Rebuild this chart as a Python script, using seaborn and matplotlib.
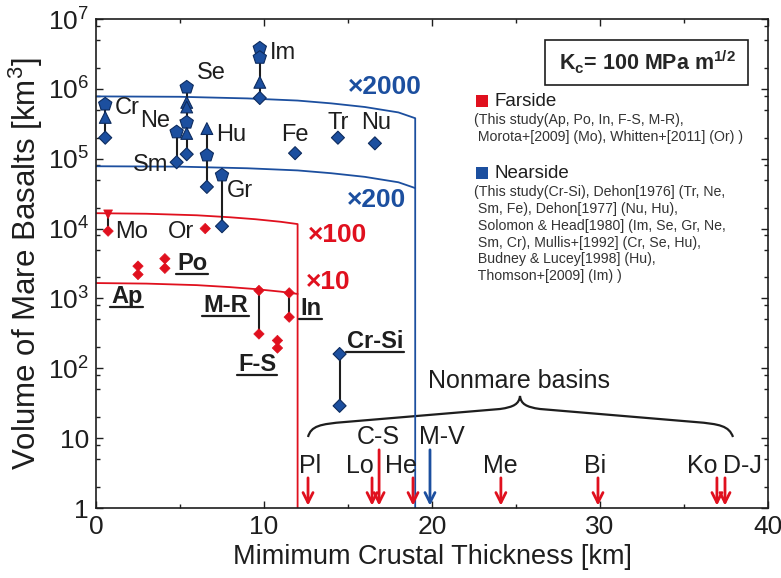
import matplotlib
matplotlib.use("Agg")
import numpy as np
import pandas as pd
import matplotlib.pyplot as plt
import seaborn as sns
from matplotlib.path import Path
from matplotlib.patches import PathPatch, Rectangle
from matplotlib.lines import Line2D
from matplotlib.ticker import FixedLocator, FixedFormatter, LogLocator, MultipleLocator, NullFormatter

# ── Style ─────────────────────────────────────────────────────
sns.set_theme(style="ticks")
plt.rcParams['font.family'] = ['Liberation Sans', 'DejaVu Sans']
plt.rcParams.update({'mathtext.fontset': 'custom',
                     'mathtext.rm': 'Liberation Sans',
                     'mathtext.bf': 'Liberation Sans:bold',
                     'mathtext.it': 'Liberation Sans:italic'})
RED = '#E0101E'
BLUE = '#1C4F9F'
EDGE = '#0D2B5E'
INK = '#1E1E1E'

# ── Data ──────────────────────────────────────────────────────
# limit curves: volume vs minimum crustal thickness
far_x = [0, 3, 6, 8, 9.5, 11, 12, 12]
far100_v = [1.66e4, 1.63e4, 1.55e4, 1.45e4, 1.36e4, 1.25e4, 1.16e4, 1]
far10_x = [0, 3, 6, 8, 9.5, 11, 12]
far10_v = [1.66e3, 1.63e3, 1.55e3, 1.45e3, 1.36e3, 1.25e3, 1.16e3]
near_x = [0, 5, 9, 12, 14, 16, 18, 19, 19]
near2000_v = [7.8e5, 7.7e5, 7.3e5, 6.8e5, 6.2e5, 5.5e5, 4.6e5, 3.8e5, 1]
near200_x = [0, 5, 9, 12, 14, 16, 18, 19]
near200_v = [7.8e4, 7.7e4, 7.3e4, 6.8e4, 6.2e4, 5.5e4, 4.6e4, 3.8e4]

# nearside basins
pent_site = ['Cr', 'Se', 'Se', 'Sm', 'Hu', 'Gr', 'Im', 'Im']
pent_x = [0.55, 5.4, 5.4, 4.8, 6.6, 7.5, 9.75, 9.75]
pent_v = [6.0e5, 1.05e6, 3.3e5, 2.4e5, 1.12e5, 5.8e4, 3.8e6, 2.8e6]
tri_site = ['Cr', 'Se', 'Se', 'Se', 'Hu', 'Im']
tri_x = [0.55, 5.4, 5.4, 5.4, 6.6, 9.75]
tri_v = [3.9e5, 6.4e5, 5.5e5, 2.3e5, 2.7e5, 1.24e6]
dia_site = ['Cr', 'Se', 'Sm', 'Hu', 'Gr', 'Im', 'Fe', 'Tr', 'Nu', 'Cr-Si', 'Cr-Si']
dia_x = [0.55, 5.4, 4.8, 6.6, 7.5, 9.75, 11.85, 14.4, 16.6, 14.5, 14.5]
dia_v = [2.0e5, 1.16e5, 8.9e4, 3.95e4, 1.08e4, 7.4e5, 1.2e5, 2.0e5, 1.66e5, 1.6e2, 29]

# farside basins
rdia_site = ['Mo', 'Or', 'Ap', 'Ap', 'Po', 'Po', 'M-R', 'M-R', 'F-S', 'F-S', 'In', 'In']
rdia_x = [0.72, 6.5, 2.5, 2.5, 4.1, 4.1, 9.7, 9.7, 10.8, 10.8, 11.5, 11.5]
rdia_v = [9.2e3, 1.0e4, 2.9e3, 2.2e3, 3.7e3, 2.7e3, 1.3e3, 3.1e2, 2.5e2, 1.95e2, 1.2e3, 5.4e2]
rtri_site = ['Mo']
rtri_x = [0.72]
rtri_v = [1.6e4]
linked = ['Cr', 'Se', 'Sm', 'Hu', 'Gr', 'Im', 'Cr-Si', 'Mo', 'M-R', 'In']

# nonmare basins
basin_names = ['Pl', 'Lo', 'C-S', 'He', 'M-V', 'Me', 'Bi', 'Ko', 'D-J']
basin_x = [12.62, 16.43, 16.85, 18.87, 19.88, 24.1, 29.88, 36.96, 37.44]
basin_side = ['far', 'far', 'far', 'far', 'near', 'far', 'far', 'far', 'far']

# ── Frames ────────────────────────────────────────────────────
near = pd.DataFrame({
    'site': pent_site + tri_site + dia_site,
    'x': pent_x + tri_x + dia_x,
    'v': pent_v + tri_v + dia_v,
    'shape': ['pent'] * len(pent_x) + ['tri'] * len(tri_x) + ['dia'] * len(dia_x)})
far = pd.DataFrame({
    'site': rdia_site + rtri_site,
    'x': rdia_x + rtri_x,
    'v': rdia_v + rtri_v,
    'shape': ['dia'] * len(rdia_x) + ['vtri'] * len(rtri_x)})

fig = plt.figure(figsize=(7.81, 5.78), dpi=100)
ax = fig.add_axes([96 / 781, 70 / 578, 672 / 781, 489 / 578])
ax.set_yscale('log')

# curves
for xs, vs, col in [(far_x, far100_v, RED), (far10_x, far10_v, RED),
                    (near_x, near2000_v, BLUE), (near200_x, near200_v, BLUE)]:
    sns.lineplot(x=xs, y=vs, color=col, lw=1.3, sort=False, estimator=None, ax=ax, zorder=2)

# connectors
both = pd.concat([near, far])
rng = both[both['site'].isin(linked)].groupby('site').agg(x=('x', 'first'), lo=('v', 'min'), hi=('v', 'max'))
ax.vlines(rng['x'], rng['lo'], rng['hi'], color=INK, lw=1.5, zorder=3)

sns.scatterplot(data=near, x='x', y='v', style='shape', size='shape',
                markers={'pent': 'p', 'tri': '^', 'dia': 'D'},
                sizes={'pent': 100, 'tri': 72, 'dia': 44},
                color=BLUE, edgecolor=EDGE, linewidth=0.8, legend=False, zorder=4, ax=ax)
sns.scatterplot(data=far, x='x', y='v', style='shape', size='shape',
                markers={'dia': 'D', 'vtri': 'v'},
                sizes={'dia': 28, 'vtri': 40},
                color=RED, edgecolor=RED, linewidth=0.5, legend=False, zorder=4, ax=ax)

# nonmare arrows
for name, bx, side in zip(basin_names, basin_x, basin_side):
    top = 6.8 if name in ('C-S', 'M-V') else 2.7
    ax.annotate('', xy=(bx, 1.08), xytext=(bx, top),
                arrowprops=dict(arrowstyle='->', color=RED if side == 'far' else BLUE,
                                lw=2, mutation_scale=18, shrinkA=0, shrinkB=0))

# ── Labels ────────────────────────────────────────────────────
site_lab = {'Cr': (1.13, 5.25e5, 'left'), 'Ne': (2.62, 3.5e5, 'left'),
            'Se': (6.0, 1.66e6, 'left'), 'Sm': (2.2, 8.1e4, 'left'),
            'Hu': (7.14, 2.2e5, 'left'), 'Gr': (7.8, 3.5e4, 'left'),
            'Im': (10.36, 3.3e6, 'left'), 'Fe': (11.85, 2.2e5, 'center'),
            'Tr': (14.4, 3.2e5, 'center'), 'Nu': (16.67, 3.2e5, 'center'),
            'Mo': (1.13, 8.9e3, 'left'), 'Or': (4.29, 8.9e3, 'left')}
for k, (tx, ty, ha) in site_lab.items():
    ax.text(tx, ty, k, fontsize=17, color=INK, ha=ha, va='center', zorder=5)
ax.plot([5.0, 5.4], [3.6e5, 3.35e5], color=INK, lw=0.8, zorder=3)

bold_lab = {'Ap': (0.9, 1.05e3), 'Po': (4.82, 3.16e3), 'M-R': (6.37, 7.9e2),
            'In': (12.14, 7.2e2), 'F-S': (8.45, 1.12e2), 'Cr-Si': (14.94, 2.45e2)}
bold_txt = []
for k, (tx, ty) in bold_lab.items():
    bold_txt.append(ax.text(tx, ty, k, fontsize=17, fontweight='bold', color=INK,
                            ha='left', va='center', zorder=5))

for s, tx, ty, col in [('×2000', 17.2, 1.05e6, BLUE), ('×200', 16.7, 2.57e4, BLUE),
                       ('×100', 14.35, 8.1e3, RED), ('×10', 13.8, 1.7e3, RED)]:
    ax.text(tx, ty, s, fontsize=19, fontweight='bold', color=col, ha='center', va='center')

basin_lab = {'Pl': (12.74, 4.0), 'Lo': (15.7, 4.0), 'He': (18.15, 4.0),
             'C-S': (16.8, 10.4), 'M-V': (20.6, 10.4), 'Me': (24.05, 4.0),
             'Bi': (29.7, 4.0), 'Ko': (36.07, 4.0), 'D-J': (38.45, 4.0)}
for k, (tx, ty) in basin_lab.items():
    ax.text(tx, ty, k, fontsize=18, color=INK, ha='center', va='center')
ax.text(25.2, 66, 'Nonmare basins', fontsize=18, color=INK, ha='center', va='center')

# brace (pixel layout -> axes fraction)
fx = lambda px: (px - 96) / 672
fy = lambda py: (508 - py) / 489
bp = [(308, 437), (311, 426), (320, 424), (345, 422), (500, 409),
      (514, 407), (519, 404), (520, 396), (521, 404), (526, 407), (540, 409),
      (695, 422), (720, 424), (729, 426), (733, 437)]
codes = [Path.MOVETO, Path.CURVE4, Path.CURVE4, Path.CURVE4, Path.LINETO,
         Path.CURVE4, Path.CURVE4, Path.CURVE4, Path.CURVE4, Path.CURVE4, Path.CURVE4,
         Path.LINETO, Path.CURVE4, Path.CURVE4, Path.CURVE4]
ax.add_patch(PathPatch(Path([(fx(a), fy(b)) for a, b in bp], codes), fc='none',
                       ec=INK, lw=1.6, transform=ax.transAxes))

# Kc box and legend
ax.add_patch(Rectangle((fx(545), fy(85)), (748 - 545) / 672, 45 / 489, transform=ax.transAxes,
                       fc='white', ec=INK, lw=1.2, zorder=6))
ax.text(fx(647), fy(62), r'$\mathbf{K_c}$= 100 MPa m$^{\mathbf{1/2}}$', fontsize=15.5,
        fontweight='bold', ha='center', va='center', transform=ax.transAxes, zorder=7)

small = '#333333'
for py, col, name, body in [
        (101, RED, 'Farside',
         '(This study(Ap, Po, In, F-S, M-R),\n Morota+[2009] (Mo), Whitten+[2011] (Or) )'),
        (173, BLUE, 'Nearside',
         '(This study(Cr-Si), Dehon[1976] (Tr, Ne,\n Sm, Fe), Dehon[1977] (Nu, Hu),\n'
         ' Solomon & Head[1980] (Im, Se, Gr, Ne,\n Sm, Cr), Mullis+[1992] (Cr, Se, Hu),\n'
         ' Budney & Lucey[1998] (Hu),\n Thomson+[2009] (Im) )')]:
    ax.add_patch(Rectangle((fx(476), fy(py + 6)), 12 / 672, 12 / 489,
                           transform=ax.transAxes, fc=col, ec='none'))
    ax.text(fx(494), fy(py), name, fontsize=13.5, color=INK, ha='left', va='center',
            transform=ax.transAxes)
    ax.text(fx(474), fy(py + 12), body, fontsize=10.2, color=small, ha='left', va='top',
            linespacing=1.26, transform=ax.transAxes)

# ── Axes ──────────────────────────────────────────────────────
ax.set_xlim(0, 40)
ax.set_ylim(1, 1e7)
ax.xaxis.set_major_locator(MultipleLocator(10))
ax.xaxis.set_minor_locator(MultipleLocator(5))
ax.yaxis.set_major_locator(FixedLocator([1, 10, 1e2, 1e3, 1e4, 1e5, 1e6, 1e7]))
ax.yaxis.set_major_formatter(FixedFormatter(['1', '10', '$10^2$', '$10^3$', '$10^4$',
                                             '$10^5$', '$10^6$', '$10^7$']))
ax.yaxis.set_minor_locator(LogLocator(base=10, subs=(2, 5, 8)))
ax.yaxis.set_minor_formatter(NullFormatter())
ax.tick_params(which='both', direction='in', top=True, right=True, color=INK, width=1)
ax.tick_params(which='major', length=5, labelsize=19, labelcolor=INK, pad=5)
ax.tick_params(which='minor', length=3)
for sp in ax.spines.values():
    sp.set_linewidth(1.2)
    sp.set_color(INK)
ax.set_xlabel('Mimimum Crustal Thickness [km]', fontsize=19.5, color=INK, labelpad=4)
ax.set_ylabel('Volume of Mare Basalts [km$^3$]', fontsize=22.5, color=INK, labelpad=2)

# underline the bold labels
fig.canvas.draw()
r = fig.canvas.get_renderer()
for t in bold_txt:
    bb = t.get_window_extent(r)
    y = (bb.y0 + 1) / fig.bbox.height
    fig.add_artist(Line2D([(bb.x0 - 1) / fig.bbox.width, (bb.x1 + 1) / fig.bbox.width], [y, y],
                          color=INK, lw=1.6))

fig.savefig('out.png', dpi=100)
